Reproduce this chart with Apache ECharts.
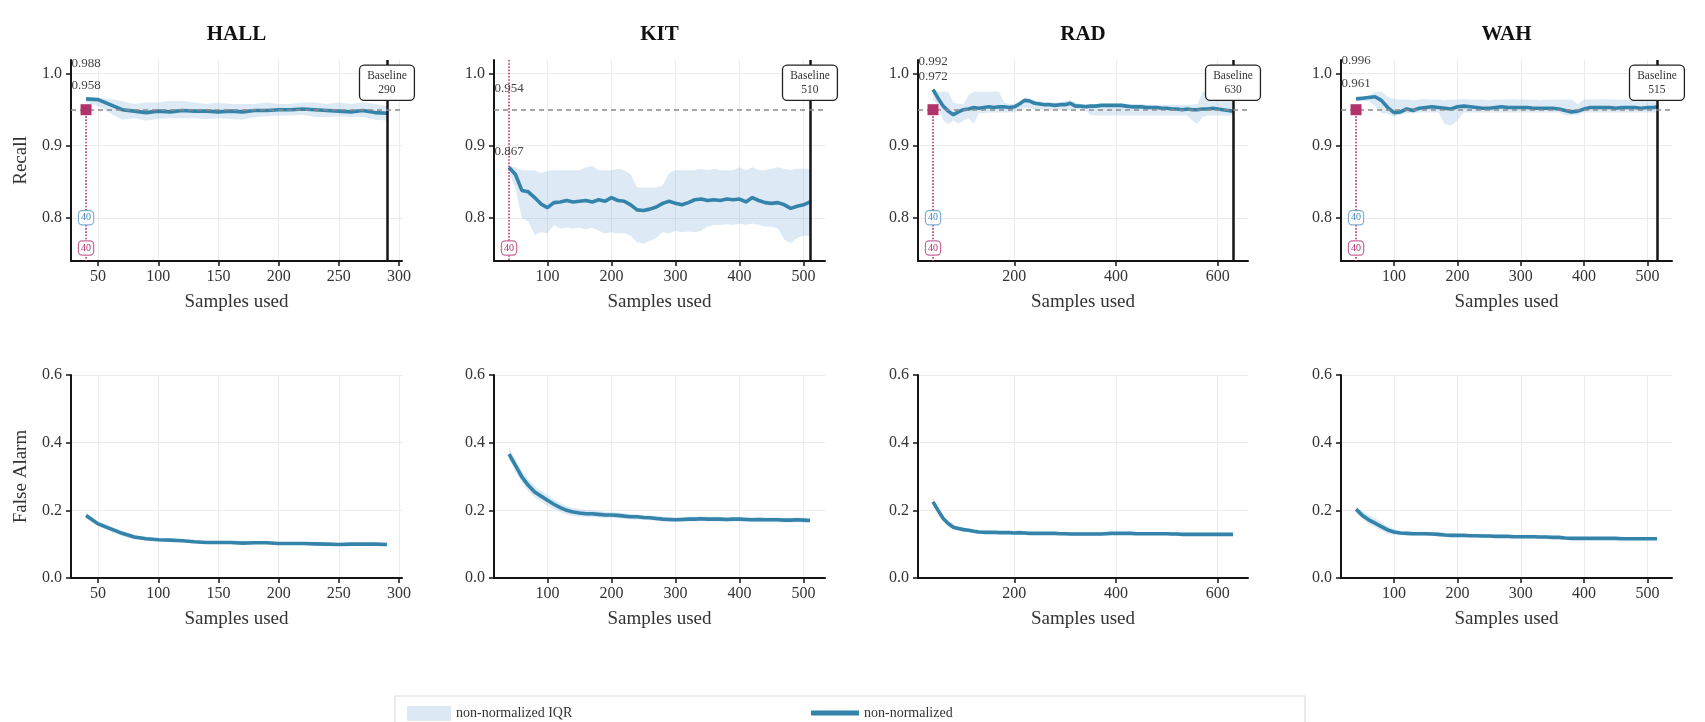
<!DOCTYPE html>
<html>
<head>
<meta charset="utf-8">
<script src="https://cdn.jsdelivr.net/npm/echarts@6/dist/echarts.min.js"></script>
<style>html,body{margin:0;padding:0;background:#fff;}#c{width:1705px;height:722px;}</style>
</head>
<body>
<div id="c"></div>
<script>
// ---------------- DATA ----------------
const datasets = ['HALL', 'KIT', 'RAD', 'WAH'];
const baselines = [290, 510, 630, 515];

const hallX = [40,50,60,70,80,90,100,110,120,130,140,150,160,170,180,190,200,210,220,230,240,250,260,270,280,290];
const kitX = [40,50,60,70,80,90,100,110,120,130,140,150,160,170,180,190,200,210,220,230,240,250,260,270,280,290,300,310,320,330,340,350,360,370,380,390,400,410,420,430,440,450,460,470,480,490,500,510];
const radX = [40,50,60,70,80,90,100,110,120,130,140,150,160,170,180,190,200,210,220,230,240,250,260,270,280,290,300,310,320,330,340,350,360,370,380,390,400,410,420,430,440,450,460,470,480,490,500,510,520,530,540,550,560,570,580,590,600,610,620,630];
const wahX = [40,50,60,70,80,90,100,110,120,130,140,150,160,170,180,190,200,210,220,230,240,250,260,270,280,290,300,310,320,330,340,350,360,370,380,390,400,410,420,430,440,450,460,470,480,490,500,510,515];

// Recall (median, Q1, Q3)
const hallRecall   = [0.965,0.964,0.957,0.950,0.948,0.946,0.948,0.947,0.949,0.948,0.948,0.947,0.948,0.947,0.949,0.949,0.950,0.950,0.951,0.950,0.949,0.948,0.947,0.949,0.946,0.945];
const hallRecallQ3 = [0.966,0.966,0.965,0.962,0.958,0.960,0.960,0.962,0.962,0.960,0.958,0.960,0.958,0.958,0.958,0.960,0.958,0.958,0.960,0.960,0.958,0.960,0.958,0.960,0.958,0.955];
const hallRecallQ1 = [0.960,0.955,0.945,0.936,0.938,0.935,0.937,0.938,0.938,0.938,0.937,0.938,0.937,0.936,0.940,0.941,0.942,0.942,0.943,0.940,0.940,0.941,0.940,0.940,0.936,0.935];

const kitRecall   = [0.870,0.860,0.838,0.836,0.828,0.819,0.814,0.821,0.822,0.824,0.822,0.823,0.824,0.822,0.825,0.823,0.828,0.824,0.823,0.818,0.811,0.810,0.812,0.815,0.820,0.823,0.820,0.818,0.821,0.825,0.826,0.824,0.825,0.824,0.826,0.825,0.826,0.822,0.828,0.824,0.821,0.820,0.821,0.818,0.813,0.816,0.818,0.822];
const kitRecallQ3 = [0.872,0.870,0.866,0.866,0.866,0.862,0.865,0.866,0.866,0.866,0.866,0.866,0.870,0.872,0.866,0.866,0.866,0.868,0.866,0.860,0.842,0.842,0.842,0.842,0.845,0.862,0.866,0.866,0.866,0.866,0.868,0.866,0.868,0.866,0.866,0.866,0.870,0.866,0.870,0.866,0.866,0.868,0.870,0.868,0.866,0.868,0.868,0.868];
const kitRecallQ1 = [0.862,0.840,0.800,0.795,0.776,0.780,0.778,0.790,0.785,0.786,0.785,0.786,0.784,0.786,0.782,0.778,0.780,0.778,0.779,0.775,0.766,0.764,0.768,0.772,0.780,0.778,0.782,0.780,0.781,0.780,0.782,0.788,0.790,0.790,0.791,0.790,0.792,0.790,0.792,0.790,0.788,0.788,0.785,0.770,0.765,0.772,0.775,0.775];

const radRecall   = [0.978,0.966,0.955,0.948,0.943,0.947,0.950,0.951,0.953,0.952,0.953,0.954,0.953,0.954,0.954,0.953,0.954,0.958,0.963,0.962,0.959,0.958,0.957,0.957,0.956,0.957,0.957,0.959,0.955,0.955,0.954,0.955,0.955,0.956,0.956,0.956,0.956,0.956,0.955,0.954,0.954,0.954,0.953,0.953,0.953,0.952,0.952,0.951,0.951,0.950,0.951,0.950,0.950,0.951,0.951,0.952,0.951,0.950,0.949,0.948];
const radRecallQ3 = [0.980,0.975,0.975,0.975,0.960,0.958,0.958,0.970,0.975,0.975,0.975,0.975,0.975,0.975,0.960,0.958,0.958,0.962,0.966,0.966,0.962,0.962,0.960,0.960,0.960,0.960,0.962,0.963,0.960,0.958,0.958,0.958,0.958,0.958,0.959,0.959,0.959,0.959,0.958,0.958,0.958,0.958,0.957,0.957,0.957,0.957,0.957,0.957,0.957,0.957,0.957,0.957,0.958,0.975,0.975,0.975,0.975,0.975,0.975,0.975];
const radRecallQ1 = [0.965,0.955,0.935,0.930,0.935,0.930,0.935,0.938,0.930,0.945,0.945,0.946,0.946,0.946,0.946,0.946,0.946,0.950,0.952,0.952,0.950,0.950,0.950,0.950,0.950,0.950,0.950,0.950,0.950,0.950,0.950,0.942,0.942,0.942,0.942,0.942,0.942,0.942,0.942,0.942,0.942,0.942,0.942,0.942,0.942,0.942,0.942,0.942,0.942,0.942,0.942,0.935,0.930,0.940,0.942,0.942,0.942,0.942,0.942,0.942];

const wahRecall   = [0.965,0.966,0.967,0.968,0.963,0.953,0.946,0.947,0.951,0.949,0.952,0.953,0.954,0.953,0.952,0.951,0.954,0.955,0.954,0.953,0.952,0.952,0.953,0.954,0.953,0.953,0.953,0.953,0.952,0.952,0.952,0.952,0.951,0.949,0.947,0.948,0.951,0.953,0.953,0.953,0.953,0.952,0.953,0.953,0.953,0.952,0.953,0.953,0.954];
const wahRecallQ3 = [0.968,0.968,0.970,0.975,0.975,0.968,0.965,0.964,0.964,0.963,0.964,0.965,0.964,0.964,0.963,0.964,0.964,0.965,0.964,0.964,0.964,0.963,0.964,0.964,0.964,0.965,0.964,0.964,0.964,0.963,0.964,0.964,0.964,0.964,0.964,0.958,0.964,0.964,0.964,0.965,0.964,0.964,0.964,0.963,0.964,0.964,0.964,0.964,0.964];
const wahRecallQ1 = [0.962,0.962,0.962,0.955,0.945,0.945,0.940,0.943,0.945,0.945,0.946,0.946,0.946,0.946,0.930,0.928,0.935,0.946,0.946,0.946,0.946,0.946,0.946,0.946,0.946,0.946,0.946,0.946,0.946,0.946,0.946,0.946,0.946,0.942,0.942,0.943,0.946,0.946,0.946,0.946,0.946,0.946,0.946,0.946,0.946,0.946,0.946,0.946,0.946];

// False alarm (median, Q1, Q3)
const hallFA   = [0.185,0.160,0.146,0.132,0.121,0.116,0.113,0.112,0.110,0.107,0.105,0.105,0.105,0.103,0.104,0.104,0.102,0.102,0.102,0.101,0.100,0.099,0.100,0.100,0.100,0.099];
const hallFAQ3 = [0.192,0.168,0.154,0.139,0.127,0.121,0.118,0.116,0.114,0.111,0.109,0.109,0.108,0.107,0.107,0.107,0.105,0.105,0.105,0.104,0.103,0.102,0.103,0.103,0.103,0.102];
const hallFAQ1 = [0.178,0.153,0.138,0.124,0.114,0.110,0.108,0.107,0.105,0.103,0.101,0.101,0.101,0.099,0.100,0.100,0.099,0.099,0.099,0.098,0.097,0.096,0.097,0.097,0.097,0.096];

const kitFA   = [0.366,0.333,0.299,0.274,0.254,0.242,0.230,0.218,0.208,0.200,0.195,0.192,0.190,0.190,0.188,0.186,0.186,0.185,0.183,0.181,0.181,0.179,0.178,0.176,0.174,0.173,0.172,0.173,0.174,0.174,0.175,0.174,0.174,0.174,0.173,0.174,0.174,0.173,0.172,0.173,0.172,0.172,0.172,0.171,0.171,0.172,0.171,0.170];
const kitFAQ3 = [0.385,0.350,0.318,0.292,0.272,0.258,0.246,0.232,0.222,0.213,0.207,0.204,0.201,0.200,0.198,0.196,0.195,0.193,0.191,0.189,0.188,0.186,0.185,0.183,0.181,0.180,0.179,0.180,0.181,0.181,0.182,0.181,0.181,0.181,0.180,0.181,0.181,0.180,0.179,0.180,0.179,0.179,0.179,0.178,0.178,0.179,0.178,0.177];
const kitFAQ1 = [0.350,0.315,0.282,0.257,0.238,0.226,0.213,0.203,0.195,0.188,0.184,0.181,0.180,0.180,0.178,0.177,0.177,0.176,0.175,0.173,0.173,0.172,0.171,0.169,0.167,0.166,0.165,0.166,0.167,0.167,0.168,0.167,0.167,0.167,0.166,0.167,0.167,0.166,0.165,0.166,0.165,0.165,0.165,0.164,0.164,0.165,0.164,0.163];

const radFA   = [0.225,0.200,0.176,0.161,0.150,0.146,0.143,0.141,0.138,0.136,0.135,0.135,0.135,0.134,0.134,0.134,0.133,0.134,0.133,0.132,0.132,0.132,0.132,0.132,0.132,0.131,0.131,0.130,0.130,0.130,0.130,0.130,0.130,0.130,0.131,0.132,0.132,0.132,0.132,0.132,0.131,0.131,0.131,0.131,0.131,0.131,0.131,0.130,0.130,0.129,0.129,0.129,0.129,0.129,0.129,0.129,0.129,0.129,0.129,0.129];
const radFAQ3 = [0.235,0.210,0.185,0.169,0.157,0.152,0.149,0.147,0.144,0.142,0.141,0.140,0.140,0.139,0.139,0.139,0.138,0.139,0.138,0.137,0.137,0.137,0.137,0.137,0.137,0.136,0.136,0.135,0.135,0.135,0.135,0.135,0.135,0.135,0.136,0.137,0.137,0.137,0.137,0.137,0.136,0.136,0.136,0.136,0.136,0.136,0.136,0.135,0.135,0.134,0.134,0.134,0.134,0.134,0.134,0.134,0.134,0.134,0.134,0.134];
const radFAQ1 = [0.215,0.190,0.167,0.153,0.143,0.140,0.137,0.135,0.132,0.130,0.130,0.130,0.130,0.129,0.129,0.129,0.128,0.129,0.128,0.127,0.127,0.127,0.127,0.127,0.127,0.126,0.126,0.125,0.125,0.125,0.125,0.125,0.125,0.125,0.126,0.127,0.127,0.127,0.127,0.127,0.126,0.126,0.126,0.126,0.126,0.126,0.126,0.125,0.125,0.124,0.124,0.124,0.124,0.124,0.124,0.124,0.124,0.124,0.124,0.124];

const wahFA   = [0.203,0.185,0.172,0.162,0.152,0.142,0.136,0.133,0.132,0.131,0.131,0.131,0.130,0.129,0.127,0.126,0.126,0.126,0.125,0.125,0.124,0.124,0.123,0.123,0.123,0.122,0.122,0.122,0.122,0.121,0.121,0.120,0.120,0.118,0.117,0.117,0.117,0.117,0.117,0.117,0.117,0.117,0.116,0.116,0.116,0.116,0.116,0.116,0.116];
const wahFAQ3 = [0.212,0.198,0.186,0.176,0.165,0.153,0.145,0.140,0.138,0.137,0.137,0.137,0.136,0.135,0.133,0.132,0.131,0.131,0.130,0.130,0.129,0.129,0.128,0.128,0.128,0.127,0.127,0.127,0.127,0.126,0.126,0.125,0.125,0.123,0.122,0.122,0.121,0.121,0.121,0.121,0.121,0.121,0.120,0.120,0.120,0.120,0.120,0.120,0.120];
const wahFAQ1 = [0.195,0.174,0.160,0.150,0.140,0.131,0.127,0.126,0.126,0.125,0.125,0.125,0.124,0.123,0.121,0.120,0.121,0.121,0.120,0.120,0.119,0.119,0.118,0.118,0.118,0.117,0.117,0.117,0.117,0.116,0.116,0.115,0.115,0.114,0.113,0.113,0.113,0.113,0.113,0.113,0.113,0.113,0.112,0.112,0.112,0.112,0.112,0.112,0.112];

// Tick labels
const xTicks = [[50,100,150,200,250,300],[100,200,300,400,500],[200,400,600],[100,200,300,400,500]];
const recallTicks = [0.8, 0.9, 1.0];
const faTicks = [0.0, 0.2, 0.4, 0.6];
// Annotation texts near the start of each recall panel
const startTexts = [['0.988','0.958'],['0.954','0.867'],['0.992','0.972'],['0.996','0.961']];
const startSample = 40;
const targetRecall = 0.95;

// ---------------- LAYOUT / STYLE ----------------
const FONT = 'Liberation Serif';
const gridLeft = [71, 494, 918, 1341];
const gridWidth = [331, 331, 330, 331];
const topRow = {top: 60, height: 201};
const botRow = {top: 375, height: 203};
const xRange = [[27.5,302.5],[16.5,533.5],[10.5,659.5],[16.25,538.75]];
const recallRange = [0.74, 1.019];
const startTextY = [[1.014,0.983],[0.98,0.892],[1.0175,0.996],[1.018,0.986]];
const showMarker = [true, false, true, true];
const LINE = '#3483ab';
const BAND = 'rgba(150,190,225,0.32)';
const MAG = '#b2326c';

const allX = [hallX, kitX, radX, wahX];
const rec = [hallRecall, kitRecall, radRecall, wahRecall];
const recQ1 = [hallRecallQ1, kitRecallQ1, radRecallQ1, wahRecallQ1];
const recQ3 = [hallRecallQ3, kitRecallQ3, radRecallQ3, wahRecallQ3];
const fa = [hallFA, kitFA, radFA, wahFA];
const faQ1 = [hallFAQ1, kitFAQ1, radFAQ1, wahFAQ1];
const faQ3 = [hallFAQ3, kitFAQ3, radFAQ3, wahFAQ3];

const zip = (xs, ys) => xs.map((x, i) => [x, ys[i]]);

const grids = [], xAxes = [], yAxes = [], series = [], graphics = [];

function axisCommon() {
  return {
    axisLine: {show: true, lineStyle: {color: '#151515', width: 2}},
    axisTick: {show: true, length: 5, inside: false, lineStyle: {color: '#151515', width: 1.5}},
    splitLine: {show: true, lineStyle: {color: '#ebebeb', width: 1}},
    axisLabel: {fontFamily: FONT, fontSize: 16, color: '#333'}
  };
}

function bandSeries(k, xs, lo, hi) {
  return {
    type: 'custom', name: 'non-normalized IQR', xAxisIndex: k, yAxisIndex: k,
    data: xs.map((x, i) => [x, lo[i], hi[i]]),
    encode: {x: 0, y: [1, 2]},
    renderItem: function (params, api) {
      if (params.dataIndex !== 0) return;
      const pts = [];
      for (let i = 0; i < xs.length; i++) pts.push(api.coord([xs[i], hi[i]]));
      for (let i = xs.length - 1; i >= 0; i--) pts.push(api.coord([xs[i], lo[i]]));
      return {type: 'polygon', shape: {points: pts}, style: {fill: BAND, stroke: null}};
    },
    itemStyle: {color: '#dce8f3'}, silent: true, z: 1, animation: false
  };
}

for (let row = 0; row < 2; row++) {
  for (let p = 0; p < 4; p++) {
    const k = row * 4 + p;
    const r = row === 0 ? topRow : botRow;
    grids.push({left: gridLeft[p], top: r.top, width: gridWidth[p], height: r.height, containLabel: false});
    const xa = axisCommon();
    xAxes.push(Object.assign(xa, {
      type: 'value', gridIndex: k, min: xRange[p][0], max: xRange[p][1],
      name: 'Samples used', nameLocation: 'middle', nameGap: 32,
      nameTextStyle: {fontFamily: FONT, fontSize: 19, color: '#333'},
      axisTick: Object.assign(xa.axisTick, {customValues: xTicks[p]}),
      axisLabel: Object.assign(xa.axisLabel, {customValues: xTicks[p], margin: 8})
    }));
    const ya = axisCommon();
    const ticks = row === 0 ? recallTicks : faTicks;
    yAxes.push(Object.assign(ya, {
      type: 'value', gridIndex: k,
      min: row === 0 ? recallRange[0] : 0, max: row === 0 ? recallRange[1] : 0.6,
      name: p === 0 ? (row === 0 ? 'Recall' : 'False Alarm') : '',
      nameLocation: 'middle', nameGap: 40,
      nameTextStyle: {fontFamily: FONT, fontSize: 19, color: '#333'},
      axisTick: Object.assign(ya.axisTick, {customValues: ticks}),
      axisLabel: Object.assign(ya.axisLabel, {customValues: ticks, margin: 9, formatter: v => Number(v).toFixed(1)})
    }));

    const xs = allX[p];
    const med = row === 0 ? rec[p] : fa[p];
    const q1 = row === 0 ? recQ1[p] : faQ1[p];
    const q3 = row === 0 ? recQ3[p] : faQ3[p];

    series.push(bandSeries(k, xs, q1, q3));

    const s = {
      type: 'line', name: 'non-normalized', xAxisIndex: k, yAxisIndex: k, data: zip(xs, med),
      symbol: 'none', lineStyle: {color: LINE, width: 3.6}, itemStyle: {color: LINE},
      z: 3, animation: false
    };

    if (row === 0) {
      const mlData = [
        {xAxis: baselines[p], lineStyle: {color: '#151515', width: 2.5, type: 'solid'}},
        {yAxis: targetRecall, lineStyle: {color: '#8c8c8c', width: 1.5, type: [5, 4]}},
        [{coord: [startSample, showMarker[p] ? targetRecall : recallRange[1]]},
         {coord: [startSample, recallRange[0]], lineStyle: {color: MAG, width: 1.6, type: 'dotted'}}]
      ];
      s.markLine = {silent: true, symbol: ['none', 'none'], label: {show: false}, animation: false, data: mlData,
                    lineStyle: {color: MAG, width: 1.6, type: 'dotted'}};
      const boxLabel = (txt, color, border) => ({
        show: true, formatter: txt, position: 'inside', fontFamily: FONT, fontSize: 10, color: color,
        backgroundColor: '#fff', borderColor: border, borderWidth: 1.2, borderRadius: 3, padding: [2, 2, 1, 2]
      });
      const mpData = [
        {coord: [baselines[p], 0.9875], symbol: 'circle', symbolSize: 1, itemStyle: {color: 'rgba(0,0,0,0)'},
         label: {show: true, formatter: 'Baseline\n' + baselines[p], position: 'inside', fontFamily: FONT,
                 fontSize: 11.5, lineHeight: 14, color: '#333', align: 'center', backgroundColor: '#fff',
                 borderColor: '#222', borderWidth: 1.3, borderRadius: 4, padding: [3, 7, 3, 7]}},
        {coord: [startSample, startTextY[p][0]], symbol: 'circle', symbolSize: 1, itemStyle: {color: 'rgba(0,0,0,0)'},
         label: {show: true, formatter: startTexts[p][0], position: 'inside', fontFamily: FONT, fontSize: 13, color: '#444'}},
        {coord: [startSample, startTextY[p][1]], symbol: 'circle', symbolSize: 1, itemStyle: {color: 'rgba(0,0,0,0)'},
         label: {show: true, formatter: startTexts[p][1], position: 'inside', fontFamily: FONT, fontSize: 13, color: '#444'}},
        {coord: [startSample, 0.758], symbol: 'circle', symbolSize: 1, itemStyle: {color: 'rgba(0,0,0,0)'},
         label: boxLabel(String(startSample), MAG, '#c9689a')}
      ];
      if (showMarker[p]) {
        mpData.push({coord: [startSample, targetRecall], symbol: 'rect', symbolSize: 11, itemStyle: {color: MAG}, label: {show: false}});
        mpData.push({coord: [startSample, 0.8], symbol: 'circle', symbolSize: 1, itemStyle: {color: 'rgba(0,0,0,0)'},
                     label: boxLabel(String(startSample), '#3f86b8', '#7fb0d2')});
      }
      s.markPoint = {silent: true, animation: false, data: mpData};
    }
    series.push(s);
  }
}

// titles
datasets.forEach((name, p) => {
  graphics.push({type: 'text', x: gridLeft[p] + gridWidth[p] / 2, y: 35,
    style: {text: name, fontFamily: FONT, fontSize: 21, fontWeight: 'bold', fill: '#111', textAlign: 'center', textVerticalAlign: 'middle'}});
});
// legend frame
graphics.push({type: 'rect', z: -1, shape: {x: 395, y: 696, width: 910, height: 40},
  style: {fill: '#fff', stroke: '#d9d9d9', lineWidth: 1}});

const option = {
  backgroundColor: '#fff',
  animation: false,
  grid: grids, xAxis: xAxes, yAxis: yAxes, series: series, graphic: graphics,
  legend: [
    {data: [{name: 'non-normalized IQR', icon: 'rect', itemStyle: {color: '#dce8f3'}}], left: 402, top: 701,
     itemWidth: 44, itemHeight: 15, selectedMode: false, textStyle: {fontFamily: FONT, fontSize: 14, color: '#333'}},
    {data: [{name: 'non-normalized', icon: 'rect', itemStyle: {color: LINE}}], left: 806, top: 701,
     itemWidth: 48, itemHeight: 5, selectedMode: false, textStyle: {fontFamily: FONT, fontSize: 14, color: '#333'}}
  ]
};

const chart = echarts.init(document.getElementById('c'), null, {renderer: 'canvas'});
chart.setOption(option);
</script>
</body>
</html>
